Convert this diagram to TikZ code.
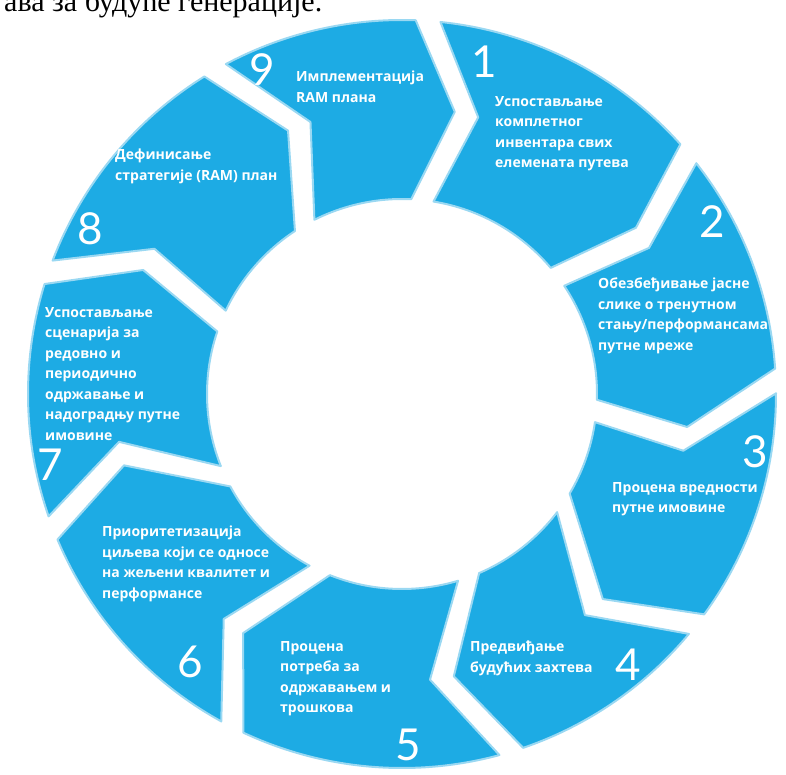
\documentclass[tikz,border=0pt]{standalone}
\usepackage{fontspec}
\setmainfont{Open Sans}
\newfontfamily\headfont{Liberation Serif}
\newfontfamily\numfont{Lato}
\usetikzlibrary{positioning}
\definecolor{ringblue}{HTML}{1DABE4}
\definecolor{ringedge}{HTML}{9AD8F2}

% ring radii and half gaps (degrees)
\newcommand{\Rout}{374}
\newcommand{\Rmid}{287}
\newcommand{\Rin}{195}
\newcommand{\gapo}{1.9}
\newcommand{\gapm}{2.4}
\newcommand{\gapi}{3.3}
% one chevron: trailing separator (out,mid,in), leading separator (out,mid,in), bearings
\newcommand{\ringseg}[6]{%
  \filldraw[seg] ({90-(#1+\gapo)}:\Rout)
    arc[start angle={90-(#1+\gapo)},end angle={90-(#4-\gapo)},radius=\Rout]
    -- ({90-(#5-\gapm)}:\Rmid) -- ({90-(#6-\gapi)}:\Rin)
    arc[start angle={90-(#6-\gapi)},end angle={90-(#3+\gapi)},radius=\Rin]
    -- ({90-(#2+\gapm)}:\Rmid) -- cycle;}

\begin{document}
\begin{tikzpicture}[x=1pt,y=1pt,
  seg/.style={fill=ringblue,draw=ringedge,line width=2pt,line join=round},
  num/.style={text=white,inner sep=0pt,font=\numfont\fontsize{44}{44}\selectfont},
  lbl/.style={text=white,inner sep=0pt,anchor=north west,align=left,
    font=\bfseries\fontsize{14}{20.5}\selectfont}
]
  \clip (0,0) rectangle (786,774);
  \node[anchor=base west,inner sep=0pt,font=\headfont\fontsize{30}{30}\selectfont] (head) at (4,762) {ава за будуће генерације.};

  \begin{scope}[shift={(402,380)}]
    \ringseg{330}{339}{330}{364}{373}{366} % 9
    \ringseg{4}{13}{6}{50}{57}{53}         % 1
    \ringseg{50}{57}{53}{88}{99}{95}       % 2
    \ringseg{88}{99}{95}{128}{138}{124}    % 3
    \ringseg{128}{138}{124}{163}{172}{160} % 4
    \ringseg{163}{172}{160}{207}{216}{205} % 5
    \ringseg{207}{216}{205}{249}{258}{245} % 6
    \ringseg{249}{258}{245}{289}{298}{292} % 7
    \ringseg{289}{298}{292}{330}{339}{330} % 8
  \end{scope}

  \node[num] (n1) at (484,712) {1};
  \node[num] (n2) at (712,552) {2};
  \node[num] (n3) at (755,322) {3};
  \node[num] (n4) at (628,109) {4};
  \node[num] (n5) at (408,29) {5};
  \node[num] (n6) at (190,112) {6};
  \node[num] (n7) at (50,309) {7};
  \node[num] (n8) at (90,545) {8};
  \node[num] (n9) at (262,704) {9};

  \node[lbl] (t1) at (495,678) {Успостављање\\комплетног\\инвентара свих\\елемената путева};
  \node[lbl] (t2) at (598,496) {Обезбеђивање јасне\\слике о тренутном\\стању/перформансама\\путне мреже};
  \node[lbl] (t3) at (612,292) {Процена вредности\\путне имовине};
  \node[lbl] (t4) at (470,133) {Предвиђање\\будућих захтева};
  \node[lbl] (t5) at (280,133) {Процена\\потреба за\\одржавањем и\\трошкова};
  \node[lbl] (t6) at (102,248) {Приоритетизација\\циљева који се односе\\на жељени квалитет и\\перформансе};
  \node[lbl] (t7) at (45,467) {Успостављање\\сценарија за\\редовно и\\периодично\\одржавање и\\надоградњу путне\\имовине};
  \node[lbl] (t8) at (115,625) {Дефинисање\\стратегије (RAM) план};
  \node[lbl] (t9) at (296,703) {Имплементација\\RAM плана};
\end{tikzpicture}
\end{document}
